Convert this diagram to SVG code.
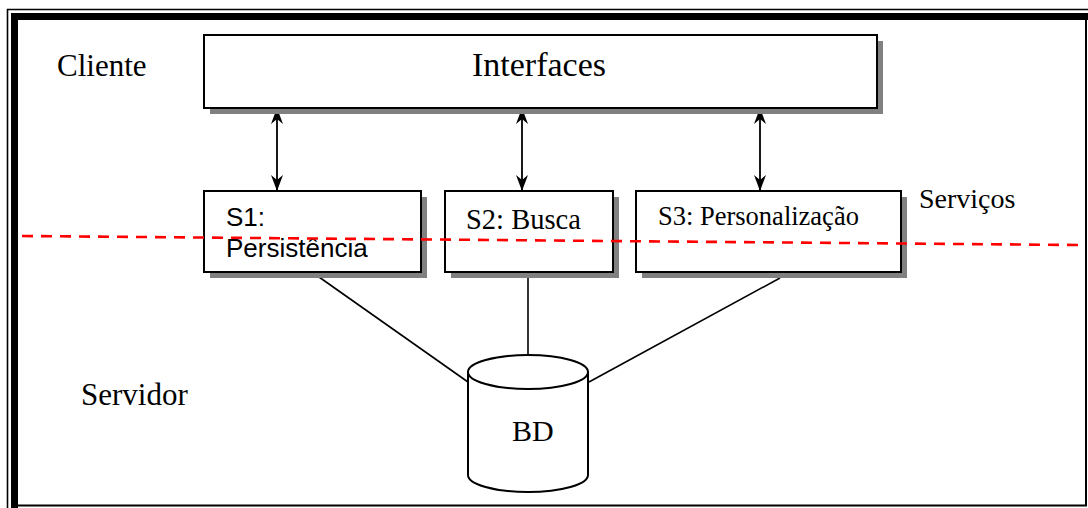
<svg xmlns="http://www.w3.org/2000/svg" width="1088" height="508" viewBox="0 0 1088 508">
  <style>
    .box { fill: #ffffff; stroke: #000000; stroke-width: 2; }
    .shadow { fill: #808080; stroke: none; }
    .serif { font-family: "Liberation Serif", "Times New Roman", serif; fill: #000000; }
    .sans { font-family: "Liberation Sans", Arial, sans-serif; fill: #000000; }
    .link { stroke: #000000; stroke-width: 1.6; fill: none; }
    .arrow { stroke: #000000; stroke-width: 1.8; fill: none; marker-start: url(#head); marker-end: url(#head); }
    .divider { stroke: #ff0000; stroke-width: 2.6; stroke-dasharray: 11 8; fill: none; }
  </style>
  <defs>
    <marker id="head" viewBox="0 0 16 12" refX="15" refY="6" markerWidth="16" markerHeight="12" markerUnits="userSpaceOnUse" orient="auto-start-reverse">
      <path d="M0,0 L16,6 L0,12 L5,6 z" fill="#000000"/>
    </marker>
  </defs>

  <rect x="0" y="0" width="1088" height="508" fill="#ffffff"/>

  <!-- page frame: thin outer rule, heavy rule on top/left, thin rules right/bottom -->
  <g id="frame">
    <polyline points="7.5,508 7.5,9.5 1088,9.5" fill="none" stroke="#000" stroke-width="1.6"/>
    <rect x="11" y="13" width="7" height="495" fill="#000"/>
    <rect x="11" y="13" width="1077" height="7" fill="#000"/>
    <line x1="1086" y1="20" x2="1086" y2="506" stroke="#000" stroke-width="2"/>
    <line x1="18" y1="505.5" x2="1087" y2="505.5" stroke="#000" stroke-width="2"/>
  </g>

  <!-- zone labels -->
  <g id="label-cliente"><text class="serif" x="57" y="76" font-size="31">Cliente</text></g>
  <g id="label-servidor"><text class="serif" x="81" y="405" font-size="31">Servidor</text></g>
  <g id="label-servicos"><text class="serif" x="919" y="208" font-size="28">Serviços</text></g>

  <!-- connectors -->
  <g id="connectors">
    <line class="arrow" x1="277" y1="109" x2="277" y2="190"/>
    <line class="arrow" x1="522" y1="109" x2="522" y2="190"/>
    <line class="arrow" x1="760" y1="109" x2="760" y2="190"/>
    <line class="link" x1="319" y1="277" x2="468" y2="382"/>
    <line class="link" x1="528" y1="273" x2="528" y2="356"/>
    <line class="link" x1="780" y1="278" x2="589" y2="382"/>
  </g>

  <g id="interfaces">
    <rect class="shadow" x="210" y="41" width="673" height="73"/>
    <rect class="box" x="204" y="35" width="673" height="73"/>
    <text class="serif" x="472" y="76" font-size="34">Interfaces</text>
  </g>

  <g id="s1">
    <rect class="shadow" x="210" y="197" width="217" height="81"/>
    <rect class="box" x="204" y="191" width="217" height="81"/>
    <text class="sans" x="226" y="226" font-size="26">S1:</text>
    <text class="sans" x="226" y="257" font-size="26">Persistência</text>
  </g>

  <g id="s2">
    <rect class="shadow" x="451" y="197" width="168" height="81"/>
    <rect class="box" x="445" y="191" width="168" height="81"/>
    <text class="serif" x="466" y="229" font-size="28.5">S2: Busca</text>
  </g>

  <g id="s3">
    <rect class="shadow" x="642" y="197" width="265" height="81"/>
    <rect class="box" x="636" y="191" width="265" height="81"/>
    <text class="serif" x="658" y="225" font-size="26.5">S3: Personalização</text>
  </g>

  <g id="bd">
    <path d="M468,372 L468,475 A60,17 0 0 0 588,475 L588,372" fill="#fff" stroke="#000" stroke-width="2"/>
    <ellipse cx="528" cy="372" rx="60" ry="17" fill="#fff" stroke="#000" stroke-width="2"/>
    <text class="serif" x="512" y="441" font-size="30">BD</text>
  </g>

  <!-- client / server boundary, drawn across the service boxes -->
  <g id="boundary">
    <line class="divider" x1="22" y1="236" x2="1078" y2="245"/>
  </g>
</svg>
